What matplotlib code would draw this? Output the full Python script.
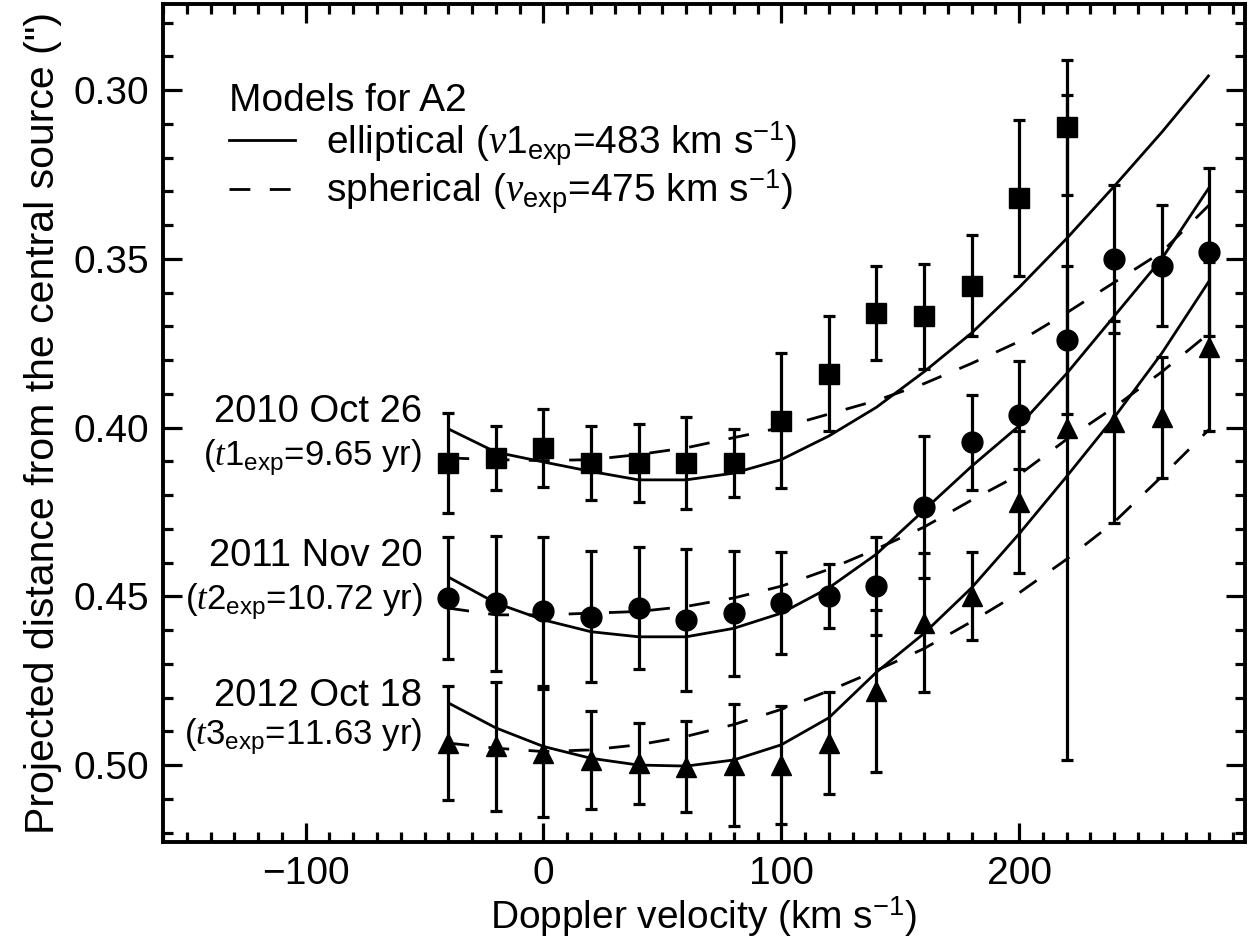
import matplotlib
matplotlib.use('Agg')
import matplotlib.pyplot as plt
from matplotlib.ticker import MultipleLocator, FormatStrFormatter
from matplotlib.lines import Line2D

plt.rcParams['font.family'] = ['Liberation Sans', 'DejaVu Sans']
plt.rcParams['mathtext.fontset'] = 'custom'
plt.rcParams['mathtext.rm'] = 'Liberation Sans'
plt.rcParams['mathtext.it'] = 'Liberation Serif:italic'
plt.rcParams['mathtext.bf'] = 'Liberation Sans:bold'

# ---------------- data ----------------
vel = [-40, -20, 0, 20, 40, 60, 80, 100, 120, 140, 160, 180, 200, 220, 240, 260, 280]
vel_sq = [-40, -20, 0, 20, 40, 60, 80, 100, 120, 140, 160, 180, 200, 220]

# 2010 Oct 26 (squares)
sq = [0.4105, 0.409, 0.406, 0.4105, 0.4105, 0.4105, 0.4105, 0.398, 0.384, 0.366, 0.367, 0.358, 0.332, 0.311]
sq_err = [0.0148, 0.0095, 0.0115, 0.011, 0.0115, 0.0135, 0.010, 0.020, 0.017, 0.014, 0.0156, 0.015, 0.023, 0.020]

# 2011 Nov 20 (circles)
ci = [0.4505, 0.452, 0.4545, 0.456, 0.4535, 0.457, 0.455, 0.452, 0.450, 0.447, 0.4235, 0.4044, 0.3963,
      0.3741, 0.350, 0.352, 0.348]
ci_err = [0.018, 0.020, 0.022, 0.0195, 0.018, 0.021, 0.0185, 0.015, 0.0095, 0.0145, 0.021, 0.014, 0.016,
          0.022, 0.022, 0.018, 0.025]

# 2012 Oct 18 (triangles)
tr = [0.4935, 0.4945, 0.4965, 0.4985, 0.4995, 0.5005, 0.500, 0.500, 0.4935, 0.478, 0.4579, 0.4498, 0.422,
      0.400, 0.3984, 0.397, 0.376]
tr_err = [0.017, 0.019, 0.019, 0.0145, 0.012, 0.0135, 0.018, 0.0175, 0.015, 0.024, 0.0206, 0.013, 0.021,
          0.0985, 0.030, 0.018, 0.025]

# elliptical model curves
ell_1 = [0.4004, 0.4073, 0.4102, 0.413, 0.4155, 0.4155, 0.4135, 0.4095, 0.4025, 0.394, 0.3835, 0.372,
         0.3585, 0.344, 0.3285, 0.3125, 0.2955]
ell_2 = [0.4443, 0.452, 0.457, 0.4605, 0.462, 0.462, 0.4595, 0.455, 0.4475, 0.4375, 0.4245, 0.4115,
         0.3995, 0.384, 0.367, 0.350, 0.3288]
ell_3 = [0.4816, 0.489, 0.4945, 0.498, 0.500, 0.5003, 0.4985, 0.494, 0.486, 0.4725, 0.461, 0.4475,
         0.4315, 0.4145, 0.397, 0.378, 0.3565]

# spherical model curves
sph_1 = [0.409, 0.4095, 0.4098, 0.4095, 0.408, 0.406, 0.403, 0.400, 0.396, 0.392, 0.387, 0.381,
         0.3745, 0.366, 0.357, 0.348, 0.334]
sph_2 = [0.4535, 0.4555, 0.4555, 0.455, 0.4545, 0.453, 0.4505, 0.447, 0.442, 0.436, 0.4295, 0.4215,
         0.414, 0.4035, 0.394, 0.3835, 0.372]
sph_3 = [0.4935, 0.495, 0.496, 0.4955, 0.494, 0.4915, 0.488, 0.4835, 0.478, 0.472, 0.4655, 0.4575,
         0.449, 0.439, 0.428, 0.4145, 0.4005]

epoch_names = ['2010 Oct 26', '2011 Nov 20', '2012 Oct 18']
epoch_times = [r'($\mathit{t1}_{\mathrm{exp}}$=9.65 yr)',
               r'($\mathit{t2}_{\mathrm{exp}}$=10.72 yr)',
               r'($\mathit{t3}_{\mathrm{exp}}$=11.63 yr)']
epoch_name_y = [0.3954, 0.4381, 0.4796]
epoch_time_y = [0.409, 0.4517, 0.4917]

legend_title = 'Models for A2'
legend_labels = [r'elliptical ($\mathit{v1}_{\mathrm{exp}}$=483 km s$^{-1}$)',
                 r'spherical ($\mathit{v}_{\mathrm{exp}}$=475 km s$^{-1}$)']

# ---------------- figure ----------------
W, H = 1254, 949
fig = plt.figure(figsize=(W / 100, H / 100), dpi=100)
ax = fig.add_axes([163 / W, 1 - 842 / H, (1245 - 163) / W, (842 - 4) / H])

FS = 28
FS_NAME = 27.5
FS_TIME = 25
FS_YLAB = 29.5
lw_model = 2.0
dash = (0, (7.5, 7.0))

for y in (ell_1, ell_2, ell_3):
    ax.plot(vel, y, color='k', lw=lw_model, solid_capstyle='butt')
for y in (sph_1, sph_2, sph_3):
    ax.plot(vel, y, color='k', lw=lw_model, linestyle=dash, dash_capstyle='butt')

eb = dict(color='k', ecolor='k', elinewidth=2.3, capsize=4.5, capthick=2.3, linestyle='none')
ax.errorbar(vel_sq, sq, yerr=sq_err, marker='s', ms=14, **eb)
ax.errorbar(vel, ci, yerr=ci_err, marker='o', ms=15, **eb)
ax.errorbar(vel, tr, yerr=tr_err, marker='^', ms=15, **eb)

for name, ny, tt, ty in zip(epoch_names, epoch_name_y, epoch_times, epoch_time_y):
    ax.text(-51, ny, name, ha='right', va='center', fontsize=FS_NAME)
    ax.text(-51, ty, tt, ha='right', va='center', fontsize=FS_TIME)

ax.set_xlim(-160, 295)
ax.set_ylim(0.5228, 0.2745)

ax.xaxis.set_major_locator(MultipleLocator(100))
ax.xaxis.set_minor_locator(MultipleLocator(10))
ax.yaxis.set_major_locator(MultipleLocator(0.05))
ax.yaxis.set_minor_locator(MultipleLocator(0.01))
ax.yaxis.set_major_formatter(FormatStrFormatter('%.2f'))

ax.tick_params(which='both', direction='in', top=True, right=True, width=2.3, labelsize=FS)
ax.tick_params(which='major', length=14)
ax.tick_params(which='minor', length=7)
ax.tick_params(axis='x', which='major', pad=10)
ax.tick_params(axis='y', which='major', pad=10)
for s in ax.spines.values():
    s.set_linewidth(2.8)

ax.set_xlabel(r'Doppler velocity (km s$^{-1}$)', fontsize=FS, labelpad=2)
ax.set_ylabel('Projected distance from the central source (")', fontsize=FS_YLAB, labelpad=8)

handles = [Line2D([], [], color='k', lw=lw_model),
           Line2D([], [], color='k', lw=lw_model, linestyle=dash)]
leg = ax.legend(handles, legend_labels, title=legend_title, loc='upper left',
                bbox_to_anchor=(0.054, 0.915), frameon=False, fontsize=FS, title_fontsize=FS,
                handlelength=1.7, handletextpad=0.8, labelspacing=0.0, alignment='left',
                borderpad=0.2, borderaxespad=0.0)

fig.savefig('out.png', dpi=100)
